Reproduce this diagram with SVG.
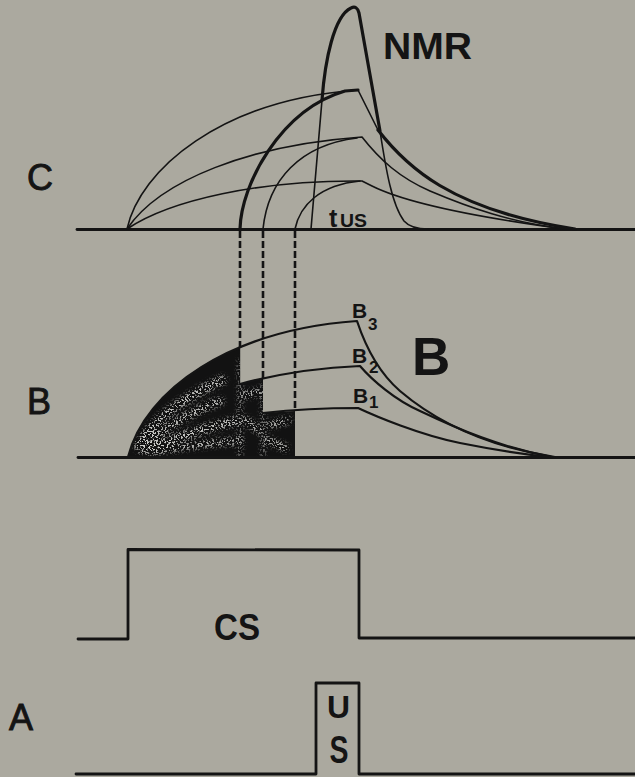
<svg xmlns="http://www.w3.org/2000/svg" width="635" height="777" viewBox="0 0 635 777">
  <defs>
    <style>
      .ln{fill:none;stroke:#141414;stroke-linecap:round;stroke-linejoin:round}
      .thin{stroke-width:1.6}
      .mid{stroke-width:2.2}
      .thick{stroke-width:3.2}
      .base{stroke-width:2.8}
      .dash{fill:none;stroke:#141414;stroke-width:2.6;stroke-dasharray:7 3}
      .lbl{font-family:"Liberation Sans",Arial,sans-serif;fill:#141414}
      .b{font-weight:bold}
      .ax{font-size:36px;stroke:#141414;stroke-width:0.9}
    </style>
    <clipPath id="shadeClip">
      <path d="M128,457 C139,413.5 178.8,372.9 240.2,347.3 L240.2,384 L263,378 L263,413 L295,411 L295,457 Z"/>
    </clipPath>
    <filter id="speck" x="0" y="0" width="100%" height="100%">
      <feTurbulence type="fractalNoise" baseFrequency="0.55" numOctaves="2" seed="7" result="n"/>
      <feColorMatrix in="n" type="matrix" values="0 0 0 0 0.62  0 0 0 0 0.62  0 0 0 0 0.6  12 0 0 0 -6.2"/>
    </filter>
    <filter id="blur" x="-20%" y="-20%" width="140%" height="140%">
      <feGaussianBlur stdDeviation="2.5"/>
    </filter>
    <mask id="bands" maskUnits="userSpaceOnUse" x="100" y="320" width="220" height="150">
      <g fill="none" stroke="#fff" filter="url(#blur)" stroke-linecap="round">
        <path d="M138,445 C155,418 185,397 222,380" stroke-width="9"/>
        <path d="M140,447 C165,428 192,411 220,401" stroke-width="8"/>
        <path d="M142,450 C170,440 203,428 236,421" stroke-width="9"/>
        <path d="M150,452 C180,447 212,442 240,441" stroke-width="7"/>
        <path d="M245,395 L258,392 M246,420 L258,430 M270,425 L288,420 M268,440 L285,448" stroke-width="7"/>
        <path d="M240,360 L240,456 M263,385 L263,456" stroke-width="3"/>
      </g>
    </mask>
  </defs>

  <rect x="0" y="0" width="635" height="777" fill="#aba99f"/>

  <!-- Axis labels -->
  <g id="label-C"><text class="lbl ax" x="27" y="190">C</text></g>
  <g id="label-B"><text class="lbl ax" x="27" y="414">B</text></g>
  <g id="label-A"><text class="lbl ax" x="9" y="730">A</text></g>

  <!-- Panel C -->
  <g id="panel-C">
    <path class="ln base" d="M77,229.5 L635,229.5"/>
    <path class="ln thin" d="M127,229 C140,170 220,100 358,90 L378,130"/>
    <path class="ln thin" d="M127,229 C160,180 250,145 362,137 C380,160 400,178 430,191 C470,208 510,222 565,229"/>
    <path class="ln thin" d="M127,229 C170,200 260,180 362,181 L372,186 C400,200 460,215 565,229"/>
    <path class="ln thick" d="M240,229 C241,185 280,110 345,91 L358,90"/>
    <path class="ln thin" d="M263,229 C268,180 300,145 357,138"/>
    <path class="ln thin" d="M295,229 C300,205 320,185 360,181"/>
    <path class="ln thin" d="M311,229 L322,100"/>
    <path class="ln thick" d="M322,100 C325,60 334,16 351,8 Q357,5 359,13 L380,131"/>
    <path class="ln thin" d="M380,131 C386,170 392,205 404,221 Q411,229 428,229"/>
    <path class="ln thick" d="M378,130 C405,165 450,210 575,229"/>
    <text class="lbl b" x="383" y="59" font-size="36" textLength="89" lengthAdjust="spacingAndGlyphs">NMR</text>
    <text class="lbl b" x="329" y="227" font-size="25">t</text>
    <text class="lbl" x="340" y="227" font-size="19" font-weight="bold" textLength="27" lengthAdjust="spacingAndGlyphs">US</text>
  </g>

  <!-- Panel B -->
  <g id="panel-B">
    <path d="M128,457 C139,413.5 178.8,372.9 240.2,347.3 L240.2,384 L263,378 L263,413 L295,411 L295,457 Z" fill="#121212"/>
    <g clip-path="url(#shadeClip)">
      <rect x="120" y="335" width="180" height="125" filter="url(#speck)" mask="url(#bands)"/>
    </g>
    <path class="ln base" d="M78,457.5 L635,457.5"/>
    <path class="ln mid" d="M128,457 C145,390 230,330 357,321 C365,345 378,372 400,391 C440,425 490,447 555,457"/>
    <path class="ln mid" d="M240,384 C270,376 310,368 360,366 C372,380 395,400 420,411 C460,430 500,447 552,457"/>
    <path class="ln mid" d="M263,413 C290,410 330,408 358,408 C375,416 420,435 460,443 C500,451 530,455 550,457"/>
    <text class="lbl b" x="352" y="318" font-size="21">B</text>
    <text class="lbl b" x="368" y="330" font-size="17">3</text>
    <text class="lbl b" x="352" y="363" font-size="21">B</text>
    <text class="lbl b" x="369" y="373" font-size="17">2</text>
    <text class="lbl b" x="353" y="403" font-size="21">B</text>
    <text class="lbl b" x="369" y="408" font-size="17">1</text>
    <text class="lbl b" x="412" y="375" font-size="53">B</text>
  </g>

  <!-- Panel A: CS -->
  <g id="panel-CS">
    <path class="ln base" d="M78,639 L128,639 L128,549.5 L359,550 L359,638 L635,638"/>
    <text class="lbl b" x="237" y="640" font-size="37" text-anchor="middle" textLength="46" lengthAdjust="spacingAndGlyphs">CS</text>
  </g>

  <!-- Panel A: US -->
  <g id="panel-US">
    <path class="ln base" d="M76,774 L316,774 L316,683 L359,683 L359,774 L635,774"/>
    <text class="lbl b" x="338.5" y="718" font-size="32" text-anchor="middle" textLength="23" lengthAdjust="spacingAndGlyphs">U</text>
    <text class="lbl b" x="339" y="763" font-size="38" text-anchor="middle" textLength="19" lengthAdjust="spacingAndGlyphs">S</text>
  </g>

  <!-- Connectors: dashed projection lines -->
  <g id="connectors">
    <path class="dash" d="M240,231 L240,348"/>
    <path class="dash" d="M263,231 L263,378"/>
    <path class="dash" d="M295,231 L295,411"/>
  </g>
</svg>
